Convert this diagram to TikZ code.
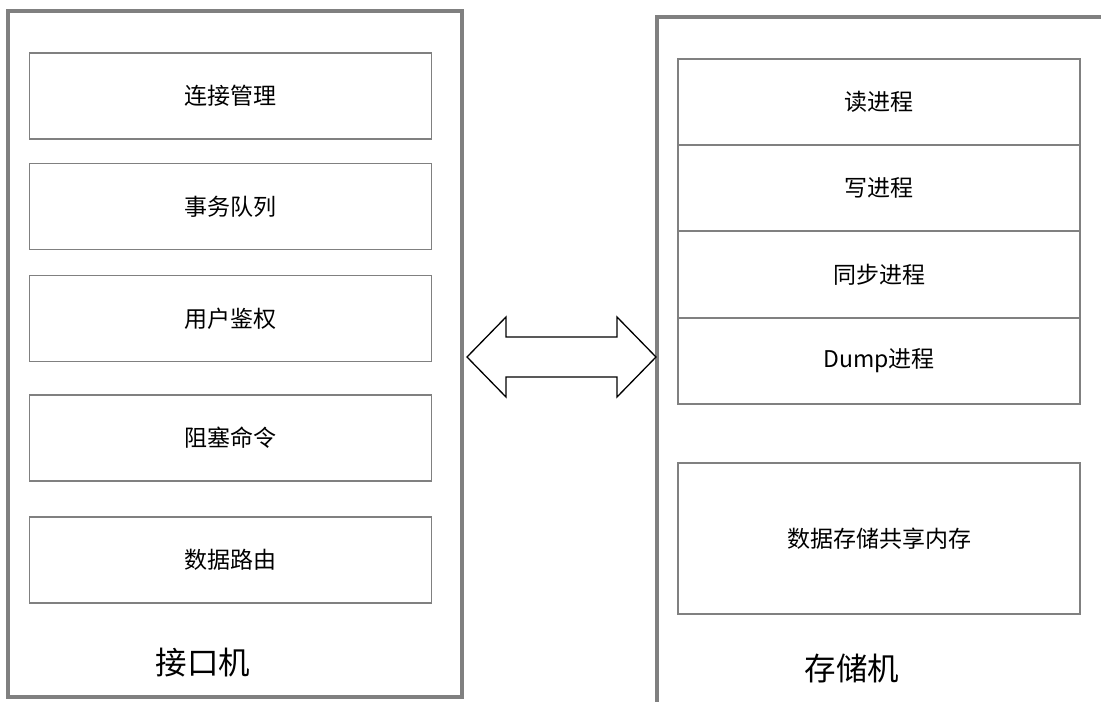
\documentclass[tikz,border=0pt]{standalone}
\usepackage{fontspec}
\setmainfont{Noto Sans CJK SC}
\begin{document}
\begin{tikzpicture}[x=1pt,y=-1pt,
  frame/.style={draw=black!50, line width=3.5pt},
  item/.style={draw=black!50, line width=1.4pt, fill=white, inner sep=0pt, font=\fontsize{23}{27}\selectfont},
  caption/.style={font=\fontsize{31.5}{36}\selectfont, inner sep=0pt}]
\useasboundingbox (0,0) rectangle (1101,702);
\fill[white] (0,0) rectangle (1101,702);
% left machine
\node[frame, minimum width=454pt, minimum height=686pt, inner sep=0pt] (left) at (235,354) {};
\foreach \n/\yy/\t in {a/96/连接管理, b/206.5/事务队列, c/318.5/用户鉴权, d/438/阻塞命令, e/560/数据路由}{
  \node[item, minimum width=402pt, minimum height=86pt] (\n) at (230.5,\yy) {\t};
}
\node[caption] (lcap) at (203,663) {接口机};
% right machine (cut by the page)
\coordinate (rtop) at (1101,17);
\coordinate (rcorner) at (657,17);
\coordinate (rbot) at (657,702);
\draw[black!50, line width=3.5pt] (rtop) -- (rcorner) -- (rbot);
\node[item, minimum width=402pt, minimum height=86pt] (r1) at (879,102) {读进程};
\node[item, minimum width=402pt, minimum height=86pt] (r2) at (879,188) {写进程};
\node[item, minimum width=402pt, minimum height=87pt] (r3) at (879,274.5) {同步进程};
\node[item, minimum width=402pt, minimum height=86pt] (r4) at (879,361) {Dump进程};
\node[item, minimum width=402pt, minimum height=151pt] (r5) at (879,538.5) {数据存储共享内存};
\node[caption] (rcap) at (852,668) {存储机};
% double block arrow
\draw[black, line width=1.3pt, line join=miter, fill=white]
  (467,357) -- (506,317) -- (506,337) -- (617,337) -- (617,317) -- (656,357)
  -- (617,397) -- (617,377) -- (506,377) -- (506,397) -- cycle;
\end{tikzpicture}
\end{document}
